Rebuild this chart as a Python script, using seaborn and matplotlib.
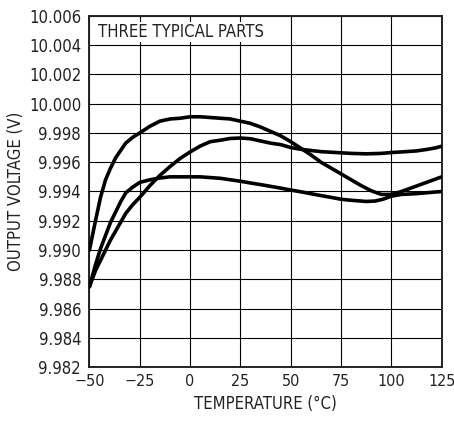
import pandas as pd
import matplotlib
matplotlib.use('Agg')
import matplotlib.pyplot as plt
import seaborn as sns
from matplotlib.patches import Rectangle

sns.set_style('white')
plt.rcParams['font.family'] = ['DejaVu Sans']
plt.rcParams['font.stretch'] = 'condensed'
plt.rcParams['axes.unicode_minus'] = True

# part 1: highest peak near 0 degC
temp_a = [-50, -47, -44.5, -42, -39.5, -37, -34.5, -32, -28.5, -25, -20, -15, -10, -5, 0,
          5, 10, 15, 20, 25, 30, 35, 40, 45, 50, 55, 60, 65, 70, 75, 80, 85, 90, 95,
          100, 105, 110, 115, 120, 125]
volt_a = [9.9900, 9.9920, 9.9936, 9.9948, 9.9956, 9.9963, 9.9968, 9.9973, 9.9977, 9.9980,
          9.99845, 9.9988, 9.99895, 9.9990, 9.9991, 9.9991, 9.99905, 9.9990, 9.99895, 9.9988,
          9.99865, 9.9984, 9.9981, 9.9978, 9.9974, 9.99695, 9.9965, 9.9960, 9.9956, 9.9952,
          9.9948, 9.9944, 9.99405, 9.9938, 9.9938, 9.9940, 9.99425, 9.9945, 9.99475, 9.9950]

# part 2: peak near 25 degC
temp_b = [-50, -47, -44.5, -42, -39.5, -37, -34.5, -32, -28.5, -25, -20, -15, -10, -5, 0,
          5, 10, 15, 20, 25, 30, 35, 40, 45, 50, 55, 60, 65, 70, 75, 80, 87.5, 95,
          100, 105, 112.5, 118, 122, 125]
volt_b = [9.9875, 9.9886, 9.9893, 9.9900, 9.9907, 9.9913, 9.9919, 9.9925, 9.9931, 9.9936,
          9.9944, 9.9951, 9.9957, 9.99625, 9.9967, 9.9971, 9.9974, 9.9975, 9.99762, 9.99765,
          9.9976, 9.99745, 9.9973, 9.9972, 9.9970, 9.99688, 9.9968, 9.99672, 9.99668, 9.99664,
          9.9966, 9.99657, 9.9966, 9.99666, 9.9967, 9.99677, 9.99688, 9.99698, 9.99709]

# part 3: flat, lowest
temp_c = [-50, -47, -44.5, -42, -39.5, -37, -34.5, -32, -28.5, -25, -20, -15, -10, -5, 0,
          5, 10, 15, 20, 25, 30, 35, 40, 45, 50, 55, 60, 65, 70, 75, 80, 87.5, 92, 96,
          100, 105, 112, 118, 125]
volt_c = [9.9875, 9.9890, 9.9901, 9.9910, 9.9919, 9.9926, 9.9933, 9.9939, 9.9943, 9.99462,
          9.9948, 9.99492, 9.9950, 9.9950, 9.9950, 9.9950, 9.99495, 9.9949, 9.9948, 9.9947,
          9.99458, 9.99447, 9.99435, 9.99423, 9.9941, 9.99398, 9.99385, 9.99372, 9.9936, 9.99347,
          9.9934, 9.99332, 9.99335, 9.99348, 9.99368, 9.9938, 9.99385, 9.99392, 9.9940]

x_ticks = [-50, -25, 0, 25, 50, 75, 100, 125]
y_ticks = [9.982 + 0.002 * i for i in range(13)]
y_labels = ['9.982', '9.984', '9.986', '9.988', '9.990', '9.992', '9.994', '9.996',
            '9.998', '10.000', '10.002', '10.004', '10.006']

fig = plt.figure(figsize=(4.54, 4.23), dpi=100)
ax = fig.add_axes([0.197, 0.1317, 0.776, 0.8312])

for t, v in [(temp_a, volt_a), (temp_b, volt_b), (temp_c, volt_c)]:
    df = pd.DataFrame({'temp': t, 'volt': v})
    sns.lineplot(data=df, x='temp', y='volt', color='black', lw=2.6, ax=ax, zorder=3)

ax.set_xlim(-50, 125)
ax.set_ylim(9.982, 10.006)
ax.set_xticks(x_ticks)
ax.set_xticklabels([str(x).replace('-', '\u2212') for x in x_ticks])
ax.set_yticks(y_ticks)
ax.set_yticklabels(y_labels)
ax.grid(True, color='black', lw=0.8)
ax.set_axisbelow(True)
ax.tick_params(length=0, labelsize=12, colors='#222222')
ax.tick_params(axis='y', pad=6)
ax.tick_params(axis='x', pad=5, labelsize=11.5)
for s in ax.spines.values():
    s.set_color('#222222')
    s.set_linewidth(1.4)

ax.add_patch(Rectangle((-49.3, 10.00418), 98.6, 0.00137, facecolor='white',
                       edgecolor='none', zorder=1.5))
ax.text(-45.9, 10.00453, 'THREE TYPICAL PARTS', fontsize=12, va='baseline',
        color='#222222', zorder=4)

ax.set_xlabel('TEMPERATURE (°C)', fontsize=12, color='#222222', labelpad=4)
ax.set_ylabel('OUTPUT VOLTAGE (V)', fontsize=12, color='#222222', labelpad=3)

plt.savefig('out.png', dpi=100)
plt.close()
